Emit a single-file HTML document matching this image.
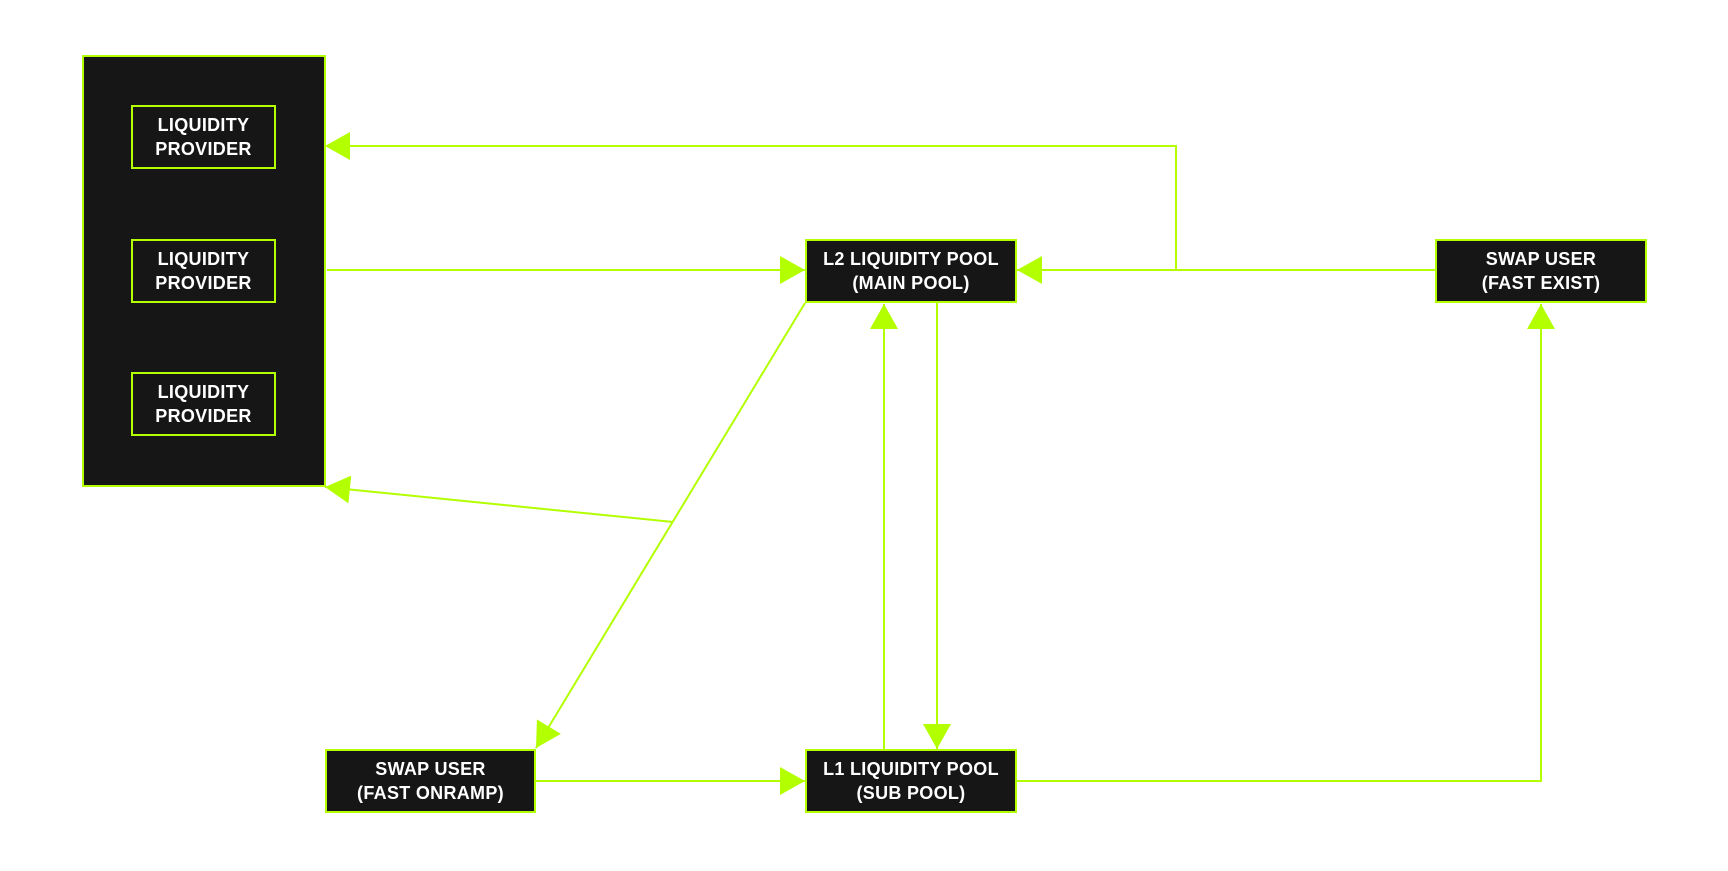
<!DOCTYPE html>
<html><head><meta charset="utf-8"><style>
html,body{margin:0;padding:0;background:#fff;}
body{width:1728px;height:871px;position:relative;overflow:hidden;font-family:"Liberation Sans",sans-serif;}
.b{position:absolute;box-sizing:border-box;background:#161616;border:2px solid #b3ff00;color:#fff;font-weight:bold;font-size:18px;line-height:24px;display:flex;align-items:center;justify-content:center;text-align:center;letter-spacing:0.3px;}
svg{position:absolute;left:0;top:0;}
</style></head><body>
<div class="b" style="left:82px;top:55px;width:244px;height:432px;"></div>
<div class="b" style="left:131px;top:105px;width:145px;height:64px;">LIQUIDITY<br>PROVIDER</div>
<div class="b" style="left:131px;top:239px;width:145px;height:64px;">LIQUIDITY<br>PROVIDER</div>
<div class="b" style="left:131px;top:372px;width:145px;height:64px;">LIQUIDITY<br>PROVIDER</div>
<div class="b" style="left:805px;top:239px;width:212px;height:64px;">L2 LIQUIDITY POOL<br>(MAIN POOL)</div>
<div class="b" style="left:1435px;top:239px;width:212px;height:64px;">SWAP USER<br>(FAST EXIST)</div>
<div class="b" style="left:325px;top:749px;width:211px;height:64px;">SWAP USER<br>(FAST ONRAMP)</div>
<div class="b" style="left:805px;top:749px;width:212px;height:64px;">L1 LIQUIDITY POOL<br>(SUB POOL)</div>
<svg width="1728" height="871" viewBox="0 0 1728 871">
<defs><marker id="a" markerUnits="userSpaceOnUse" markerWidth="30" markerHeight="30" refX="25" refY="14" orient="auto"><path d="M0,0 L25,14 L0,28 Z" fill="#b3ff00"/></marker></defs>
<g stroke="#b3ff00" stroke-width="2" fill="none">
<polyline points="1176,270 1176,146 325,146" marker-end="url(#a)"/>
<line x1="327" y1="270" x2="805" y2="270" marker-end="url(#a)"/>
<line x1="1435" y1="270" x2="1017" y2="270" marker-end="url(#a)"/>
<line x1="805" y1="303" x2="536" y2="748" marker-end="url(#a)"/>
<line x1="673" y1="522" x2="325" y2="487" marker-end="url(#a)"/>
<line x1="884" y1="749" x2="884" y2="304" marker-end="url(#a)"/>
<line x1="937" y1="303" x2="937" y2="749" marker-end="url(#a)"/>
<line x1="536" y1="781" x2="805" y2="781" marker-end="url(#a)"/>
<polyline points="1017,781 1541,781 1541,304" marker-end="url(#a)"/>
</g>
</svg>
</body></html>
